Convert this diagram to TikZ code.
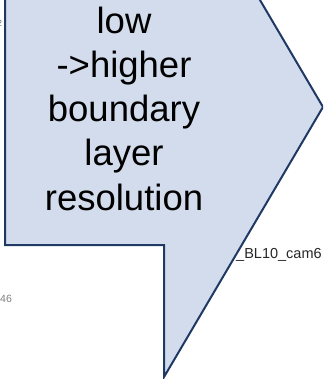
\documentclass[tikz,border=0pt]{standalone}
\usepackage{fontspec}
\setmainfont{Liberation Sans}
\definecolor{calloutfill}{HTML}{D3DCEC}
\definecolor{calloutline}{HTML}{1F3864}
\tikzset{
  bigtext/.style={anchor=base, inner sep=0pt, font=\fontsize{36.5}{44}\selectfont, text=black},
  bgtext/.style={anchor=base west, inner sep=0pt},
  callout/.style={fill=calloutfill, draw=calloutline, line width=2pt, line join=miter}
}
\begin{document}
\begin{tikzpicture}[x=1pt, y=-1pt]
\useasboundingbox (0,0) rectangle (323,379);
\clip (0,0) rectangle (323,379);
% background fragments
\node[bgtext, font=\fontsize{9}{10}\selectfont, text=black!55] (frag2) at (-3,27) {2};
\node[bgtext, font=\fontsize{10.5}{11}\selectfont, text=black!50] (frag46) at (0,302) {46};
\node[bgtext, font=\fontsize{14.5}{16}\selectfont, text=black!85] (fragbl) at (236,258) {\_BL10\_cam6};
% callout arrow
\coordinate (tl) at (5,-40);
\coordinate (tr) at (236.4,-40);
\coordinate (tip) at (323,107);
\coordinate (bot) at (164,377);
\coordinate (notchr) at (164,245);
\coordinate (notchl) at (5,245);
\draw[callout] (tl) -- (tr) -- (tip) -- (bot) -- (notchr) -- (notchl) -- cycle;
% text
\node[bigtext] (l1) at (124,34) {low};
\node[bigtext] (l2) at (124,78) {->higher};
\node[bigtext] (l3) at (124,122) {boundary};
\node[bigtext] (l4) at (124,166) {layer};
\node[bigtext] (l5) at (124,210) {resolution};
\end{tikzpicture}
\end{document}
